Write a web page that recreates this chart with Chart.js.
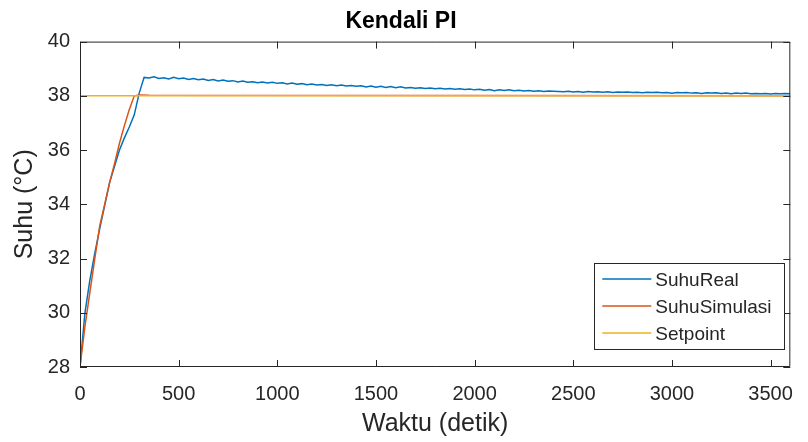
<!DOCTYPE html>
<html>
<head>
<meta charset="utf-8">
<script src="https://cdn.jsdelivr.net/npm/chart.js@4/dist/chart.umd.min.js"></script>
<style>
  body { margin: 0; background: #fff; }
  #wrap { width: 808px; height: 442px; }
</style>
</head>
<body>
<div id="wrap"><canvas id="kendaliChart" width="808" height="442"></canvas></div>
<script>
// data
const realTime = [
    0, 25, 50, 75, 100, 125, 150, 175, 200, 225, 250, 275, 300, 325, 350, 375, 400, 425, 450, 475,
    500, 525, 550, 575, 600, 625, 650, 675, 700, 725, 750, 775, 800, 825, 850, 875, 900, 925, 950, 975,
    1000, 1025, 1050, 1075, 1100, 1125, 1150, 1175, 1200, 1225, 1250, 1275, 1300, 1325, 1350, 1375, 1400, 1425, 1450, 1475,
    1500, 1525, 1550, 1575, 1600, 1625, 1650, 1675, 1700, 1725, 1750, 1775, 1800, 1825, 1850, 1875, 1900, 1925, 1950, 1975,
    2000, 2025, 2050, 2075, 2100, 2125, 2150, 2175, 2200, 2225, 2250, 2275, 2300, 2325, 2350, 2375, 2400, 2425, 2450, 2475,
    2500, 2525, 2550, 2575, 2600, 2625, 2650, 2675, 2700, 2725, 2750, 2775, 2800, 2825, 2850, 2875, 2900, 2925, 2950, 2975,
    3000, 3025, 3050, 3075, 3100, 3125, 3150, 3175, 3200, 3225, 3250, 3275, 3300, 3325, 3350, 3375, 3400, 3425, 3450, 3475,
    3500, 3525, 3550, 3575, 3600
];
const realTemp = [
    28.0, 30.0, 31.2, 32.2, 33.1, 33.95, 34.8, 35.4, 36.0, 36.45, 36.85, 37.3, 38.1, 38.68, 38.66, 38.7, 38.64, 38.67, 38.62, 38.68,
    38.63, 38.66, 38.6, 38.64, 38.59, 38.62, 38.57, 38.6, 38.55, 38.58, 38.54, 38.56, 38.51, 38.55, 38.5, 38.52, 38.48, 38.51, 38.47, 38.5,
    38.46, 38.48, 38.44, 38.47, 38.43, 38.45, 38.41, 38.44, 38.4, 38.42, 38.38, 38.41, 38.37, 38.4, 38.36, 38.38, 38.35, 38.37, 38.33, 38.36,
    38.32, 38.35, 38.31, 38.34, 38.3, 38.33, 38.29, 38.31, 38.28, 38.3, 38.27, 38.29, 38.26, 38.28, 38.25, 38.27, 38.24, 38.26, 38.23, 38.25,
    38.22, 38.24, 38.21, 38.23, 38.19, 38.22, 38.2, 38.22, 38.19, 38.21, 38.18, 38.2, 38.17, 38.19, 38.16, 38.18, 38.17, 38.16, 38.15, 38.17,
    38.14, 38.16, 38.13, 38.16, 38.14, 38.15, 38.13, 38.15, 38.12, 38.14, 38.13, 38.14, 38.12, 38.13, 38.11, 38.13, 38.12, 38.13, 38.11, 38.12,
    38.1, 38.12, 38.11, 38.12, 38.1, 38.11, 38.09, 38.11, 38.1, 38.11, 38.09, 38.1, 38.08, 38.1, 38.09, 38.1, 38.08, 38.09, 38.08, 38.09,
    38.07, 38.09, 38.08, 38.09, 38.08
];

const simTime = [0, 25, 50, 75, 100, 125, 150, 175, 200, 225, 250, 275, 300, 350, 3600];
const simTemp = [28.0, 29.5, 30.75, 32.0, 33.2, 34.0, 34.8, 35.5, 36.25, 36.9, 37.5, 38.0, 38.03, 38.02, 38.0];

const setpointTime = [0, 3600];
const setpointTemp = [38, 38];

const xRange = [0, 3600];
const yRange = [28, 40];
const xTickValues = [0, 500, 1000, 1500, 2000, 2500, 3000, 3500];
const yTickValues = [28, 30, 32, 34, 36, 38, 40];

const axisColor = '#262626';
const fontFamily = '"Liberation Sans", Arial, Helvetica, sans-serif';

function toPoints(xs, ys) {
    return xs.map((x, i) => ({ x: x, y: ys[i] }));
}

// box, inward ticks on all four sides and the legend (MATLAB style)
const matlabFrame = {
    id: 'matlabFrame',
    afterDatasetsDraw(chart) {
        const { ctx, chartArea: a, scales } = chart;
        const tl = 7;
        ctx.save();
        ctx.strokeStyle = axisColor;
        ctx.lineWidth = 1;
        ctx.beginPath();
        ctx.rect(a.left + 0.5, a.top + 0.5, a.right - a.left - 1, a.bottom - a.top - 1);
        scales.x.ticks.forEach(t => {
            const px = Math.round(scales.x.getPixelForValue(t.value)) + 0.5;
            ctx.moveTo(px, a.bottom); ctx.lineTo(px, a.bottom - tl);
            ctx.moveTo(px, a.top); ctx.lineTo(px, a.top + tl);
        });
        scales.y.ticks.forEach(t => {
            const py = Math.round(scales.y.getPixelForValue(t.value)) + 0.5;
            ctx.moveTo(a.left, py); ctx.lineTo(a.left + tl, py);
            ctx.moveTo(a.right, py); ctx.lineTo(a.right - tl, py);
        });
        ctx.stroke();

        // legend in the lower right corner
        const boxW = 190, boxH = 86;
        const bx = a.right - 6 - boxW, by = a.bottom - 18 - boxH;
        ctx.fillStyle = '#fff';
        ctx.fillRect(bx, by, boxW, boxH);
        ctx.strokeRect(Math.round(bx) + 0.5, Math.round(by) + 0.5, boxW, boxH);
        ctx.font = '19px ' + fontFamily;
        ctx.textBaseline = 'middle';
        ctx.textAlign = 'left';
        chart.data.datasets.forEach((ds, i) => {
            const rowY = by + 16 + i * 27;
            ctx.strokeStyle = ds.borderColor;
            ctx.lineWidth = 1.5;
            ctx.beginPath();
            ctx.moveTo(bx + 8, rowY);
            ctx.lineTo(bx + 57, rowY);
            ctx.stroke();
            ctx.fillStyle = axisColor;
            ctx.fillText(ds.label, bx + 61, rowY + 2);
        });
        ctx.restore();
    }
};

const ctx = document.getElementById('kendaliChart').getContext('2d');
new Chart(ctx, {
    type: 'line',
    data: {
        datasets: [
            {
                label: 'SuhuReal',
                data: toPoints(realTime, realTemp),
                borderColor: '#0072BD',
                borderWidth: 1.5,
                order: 3
            },
            {
                label: 'SuhuSimulasi',
                data: toPoints(simTime, simTemp),
                borderColor: '#D95319',
                borderWidth: 1.5,
                order: 2
            },
            {
                label: 'Setpoint',
                data: toPoints(setpointTime, setpointTemp),
                borderColor: '#EDB120',
                borderWidth: 1.5,
                order: 1
            }
        ]
    },
    options: {
        responsive: false,
        animation: false,
        devicePixelRatio: 1,
        layout: { padding: { left: 0, right: 6, top: 0, bottom: 0 } },
        elements: {
            point: { radius: 0 },
            line: { tension: 0, fill: false }
        },
        plugins: {
            legend: { display: false },
            tooltip: { enabled: false },
            title: {
                display: true,
                text: 'Kendali PI',
                color: '#000',
                font: { family: fontFamily, size: 23, weight: 'bold' },
                padding: { top: 8, bottom: 6 }
            }
        },
        scales: {
            x: {
                type: 'linear',
                min: xRange[0],
                max: xRange[1],
                grid: { display: false, drawTicks: false },
                border: { display: false },
                afterBuildTicks(scale) {
                    scale.ticks = xTickValues.map(v => ({ value: v }));
                },
                ticks: {
                    autoSkip: false,
                    maxRotation: 0,
                    padding: 15,
                    color: axisColor,
                    font: { family: fontFamily, size: 20 },
                    callback: v => String(v)
                },
                title: {
                    display: true,
                    text: 'Waktu (detik)',
                    color: axisColor,
                    font: { family: fontFamily, size: 25 },
                    padding: { top: 0, bottom: 3 }
                },
                afterFit(scale) { scale.height = 75; }
            },
            y: {
                min: yRange[0],
                max: yRange[1],
                grid: { display: false, drawTicks: false },
                border: { display: false },
                afterBuildTicks(scale) {
                    scale.ticks = yTickValues.map(v => ({ value: v }));
                },
                ticks: {
                    autoSkip: false,
                    padding: 10,
                    color: axisColor,
                    font: { family: fontFamily, size: 20 },
                    callback: v => String(v)
                },
                title: {
                    display: true,
                    text: 'Suhu (°C)',
                    color: axisColor,
                    font: { family: fontFamily, size: 25 },
                    padding: { top: 10, bottom: 0 }
                },
                afterFit(scale) { scale.width = 80; }
            }
        }
    },
    plugins: [matlabFrame]
});
</script>
</body>
</html>
